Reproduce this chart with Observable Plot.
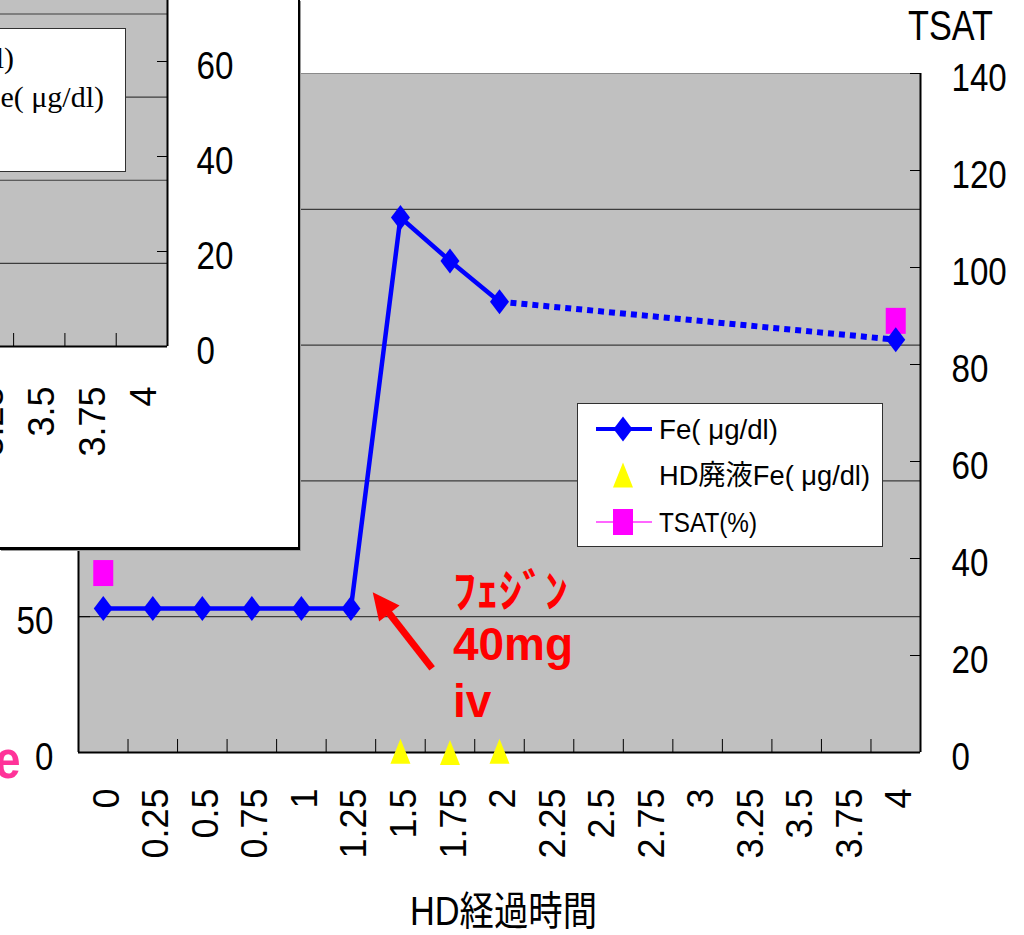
<!DOCTYPE html>
<html>
<head>
<meta charset="utf-8">
<script src="https://cdn.jsdelivr.net/npm/d3@7"></script>
<script src="https://cdn.jsdelivr.net/npm/@observablehq/plot@0.6"></script>
<style>
  body { margin: 0; background: #fff; }
  #wrap { position: relative; width: 1024px; height: 935px; overflow: hidden; }
  #main { position: absolute; left: 0; top: 0; width: 1024px; }
  #inset {
    position: absolute; left: 0; top: 0; width: 298px; height: 547px;
    overflow: hidden; background: #fff;
    border-right: 2px solid #000; border-bottom: 3px solid #000;
    box-shadow: 1px 1px 0 #9a9a9a;
  }
  #wrap svg { max-width: none !important; }
  #inset svg { position: absolute; }
</style>
</head>
<body>
<div id="wrap"><div id="main"></div><div id="inset"></div></div>
<script>
// ---- data ----
const hours   = [0, 0.25, 0.5, 0.75, 1, 1.25, 1.5, 1.75, 2, 2.25, 2.5, 2.75, 3, 3.25, 3.5, 3.75, 4];
const fe      = [53, 53, 53, 53, 53, 53, 197, 181, 166, null, null, null, null, null, null, null, 152];
const drainFe = [null, null, null, null, null, null, 0.5, 0, 0.5, null, null, null, null, null, null, null, null];
const tsat    = [37, null, null, null, null, null, null, null, null, null, null, null, null, null, null, null, 89];

const feTicks      = [0, 50, 100, 150, 200, 250];
const tsatTicks    = [0, 20, 40, 60, 80, 100, 120, 140];
const insetFeTicks = [0, 50, 100, 150, 200, 250, 300, 350, 400];

const legendLabels = ["Fe( μg/dl)", "HD廃液Fe( μg/dl)", "TSAT(%)"];
const xTitle = "HD経過時間";
const leftTitle = "Fe";
const rightTitle = "TSAT";
const noteLines = ["ﾌｪｼﾞﾝ", "40mg", "iv"];

// ---- layout ----
const SANS  = "'Liberation Sans', Arial, 'Noto Sans CJK JP', sans-serif";
const SERIF = "'Liberation Serif', 'Times New Roman', 'Noto Sans CJK JP', serif";
const W = 1024, H = 935;
const M = {top: 73, right: 104, bottom: 183, left: 78};
const innerW = W - M.left - M.right, innerH = H - M.top - M.bottom;
const FE_MAX = feTicks[feTicks.length - 1];
const TSAT_MAX = tsatTicks[tsatTicks.length - 1];
const toFe = v => v * FE_MAX / TSAT_MAX;

const step = hours[1] - hours[0];
const xDomain = [hours[0] - step / 2, hours[hours.length - 1] + step / 2];
const boundaries = hours.slice(1).map((h, i) => (hours[i] + h) / 2);

const rows = hours.map((h, i) => ({h, fe: fe[i], drain: drainFe[i], tsat: tsat[i]}));

// contiguous runs of Fe readings, and the dotted bridges across the gaps
const runs = [];
let cur = [];
rows.forEach(d => { if (d.fe == null) { if (cur.length) runs.push(cur); cur = []; } else cur.push(d); });
if (cur.length) runs.push(cur);
const bridges = runs.slice(1).map((r, i) => [runs[i][runs[i].length - 1], r[0]]);

// marker shapes
const tallDiamond = {draw(c) { c.moveTo(0, -12.5); c.lineTo(9.5, 0); c.lineTo(0, 12.5); c.lineTo(-9.5, 0); c.closePath(); }};
const triangleUp  = {draw(c) { c.moveTo(0, -12.5); c.lineTo(10, 12.5); c.lineTo(-10, 12.5); c.closePath(); }};
const tallSquare  = {draw(c) { c.rect(-10, -13, 20, 26); }};

// arrow annotation (data units)
const arrowFrom = {h: 1.66, v: 31};
const arrowTo   = {h: 1.36, v: 59};
const notePos   = [{h: 1.765, v: 59}, {h: 1.765, v: 39.4}, {h: 1.765, v: 18.4}];
const note = noteLines.map((t, i) => ({text: t, ...notePos[i]}));

const kx = innerW / (xDomain[1] - xDomain[0]);
const ky = innerH / FE_MAX;
const dxp = (arrowTo.h - arrowFrom.h) * kx;
const dyp = -(arrowTo.v - arrowFrom.v) * ky;
const alen = Math.hypot(dxp, dyp);
const ang = Math.atan2(dxp, -dyp);
const rot = (x, y) => [x * Math.cos(ang) - y * Math.sin(ang), x * Math.sin(ang) + y * Math.cos(ang)];
const arrowHead = {draw(c) {
  const a = rot(0, 0), b = rot(13, 27), d = rot(-13, 27);
  c.moveTo(a[0], a[1]); c.lineTo(b[0], b[1]); c.lineTo(d[0], d[1]); c.closePath();
}};
const shaftEnd = {
  h: arrowTo.h - (dxp / alen) * 18 / kx,
  v: arrowTo.v + (dyp / alen) * 18 / ky
};

// ---- main chart ----
const chart = Plot.plot({
  width: W, height: H,
  marginTop: M.top, marginRight: M.right, marginBottom: M.bottom, marginLeft: M.left,
  style: {fontFamily: SANS, background: "#fff", overflow: "visible"},
  x: {domain: xDomain},
  y: {domain: [0, FE_MAX]},
  marks: [
    Plot.frame({fill: "#c0c0c0", stroke: "none"}),
    Plot.ruleY(feTicks.filter(v => v > 0 && v < FE_MAX), {stroke: "#3c3c3c", strokeWidth: 1.2}),
    Plot.ruleY([FE_MAX], {stroke: "#8a8a8a"}),
    Plot.tickY(feTicks, {y: d => d, insetRight: innerW - 12, stroke: "#000"}),
    Plot.tickY(tsatTicks.map(toFe), {y: d => d, insetLeft: innerW - 10, stroke: "#000"}),
    Plot.tickX(boundaries, {x: d => d, insetTop: innerH - 13, stroke: "#000"}),
    Plot.ruleX([xDomain[0]], {stroke: "#000", strokeWidth: 2}),
    Plot.ruleX([xDomain[1]], {stroke: "#000", strokeWidth: 2}),
    Plot.ruleY([0], {stroke: "#000", strokeWidth: 2}),

    Plot.dot(rows, {x: "h", y: d => d.tsat == null ? NaN : toFe(d.tsat), symbol: tallSquare, fill: "#ff00ff"}),
    ...bridges.map(b => Plot.line(b, {x: "h", y: "fe", stroke: "#0000ff", strokeWidth: 6,
      strokeDasharray: "6,5", strokeLinecap: "butt"})),
    ...runs.map(r => Plot.line(r, {x: "h", y: "fe", stroke: "#0000ff", strokeWidth: 4.5})),
    Plot.dot(rows, {x: "h", y: "fe", symbol: tallDiamond, fill: "#0000ff"}),
    Plot.dot(rows, {x: "h", y: "drain", symbol: triangleUp, fill: "#ffff00"}),

    Plot.link([0], {x1: arrowFrom.h, y1: arrowFrom.v, x2: shaftEnd.h, y2: shaftEnd.v, stroke: "#ff0000", strokeWidth: 7}),
    Plot.dot([arrowTo], {x: "h", y: "v", symbol: arrowHead, fill: "#ff0000"}),
    Plot.text(note, {x: "h", y: "v", text: "text", textAnchor: "start", fill: "#ff0000",
      fontSize: 46, fontWeight: "bold"}),

    Plot.axisY({anchor: "left", ticks: feTicks, tickSize: 0, tickPadding: 25, dy: 5, fontSize: 39, label: null}),
    Plot.axisY({anchor: "right", ticks: tsatTicks.map(toFe), tickFormat: v => Math.round(v * TSAT_MAX / FE_MAX),
      tickSize: 0, tickPadding: 31, dy: 5, fontSize: 39, label: null}),
    Plot.axisX({ticks: hours, tickFormat: d => String(d), tickRotate: -90, tickSize: 0, tickPadding: 36,
      dx: 4, fontSize: 36, label: null}),

    Plot.text([xTitle], {text: d => d, frameAnchor: "bottom", textAnchor: "middle", lineAnchor: "middle",
      dx: 4, dy: 160, fontSize: 40}),
    Plot.text([rightTitle], {text: d => d, frameAnchor: "top-right", textAnchor: "middle", lineAnchor: "middle",
      dx: 30, dy: -47, fontSize: 42}),
    Plot.text([leftTitle], {text: d => d, frameAnchor: "bottom-left", textAnchor: "end", lineAnchor: "middle",
      dx: -58, dy: 8, fontSize: 54, fontWeight: "bold", fill: "#ff3399"})
  ]
});
document.getElementById("main").append(chart);

// legend
const svg = d3.select(chart);
const lg = svg.append("g").attr("font-family", SANS).attr("font-size", 28).attr("text-anchor", "start");
lg.append("rect").attr("x", 577.5).attr("y", 403.5).attr("width", 305).attr("height", 143)
  .attr("fill", "#fff").attr("stroke", "#303030");
const legendRows = [
  {y: 429, line: "#0000ff", lw: 4, shape: tallDiamond, fill: "#0000ff", len: 119},
  {y: 475, line: null, shape: triangleUp, fill: "#ffff00", len: 211},
  {y: 522, line: "#ff66ff", lw: 2, shape: tallSquare, fill: "#ff00ff", len: 98}
];
legendRows.forEach((r, i) => {
  if (r.line) lg.append("line").attr("x1", 596).attr("x2", 652).attr("y1", r.y).attr("y2", r.y)
    .attr("stroke", r.line).attr("stroke-width", r.lw);
  lg.append("path").attr("d", d3.symbol().type(r.shape)()).attr("transform", `translate(623,${r.y})`).attr("fill", r.fill);
  lg.append("text").attr("x", 659).attr("y", r.y).attr("dy", "0.36em").attr("text-anchor", "start")
    .text(legendLabels[i])
    .attr("textLength", r.len).attr("lengthAdjust", "spacingAndGlyphs");
});

// ---- inset chart (its right end shows in the top-left panel) ----
const IW = 1084, IH = 907;
const IM = {top: 40, right: 132, bottom: 202, left: 80};
const iInnerW = IW - IM.left - IM.right, iInnerH = IH - IM.top - IM.bottom;
const INSET_FE_MAX = insetFeTicks[insetFeTicks.length - 1];
const toInset = v => v * INSET_FE_MAX / TSAT_MAX;
const insetRight = 167, insetBottom = 346;
const offX = IW - IM.right - insetRight, offY = IH - IM.bottom - insetBottom;

const inset = Plot.plot({
  width: IW, height: IH,
  marginTop: IM.top, marginRight: IM.right, marginBottom: IM.bottom, marginLeft: IM.left,
  style: {fontFamily: SANS, background: "#fff", overflow: "visible"},
  x: {domain: xDomain},
  y: {domain: [0, INSET_FE_MAX]},
  marks: [
    Plot.frame({fill: "#c0c0c0", stroke: "none"}),
    Plot.ruleY(insetFeTicks.filter(v => v > 0 && v < INSET_FE_MAX), {stroke: "#3c3c3c", strokeWidth: 1.2}),
    Plot.tickY(tsatTicks.map(toInset), {y: d => d, insetLeft: iInnerW - 10, stroke: "#000"}),
    Plot.tickX(boundaries, {x: d => d, insetTop: iInnerH - 13, stroke: "#000"}),
    Plot.ruleX([xDomain[1]], {stroke: "#000", strokeWidth: 2}),
    Plot.ruleY([0], {stroke: "#000", strokeWidth: 2}),
    Plot.axisY({anchor: "right", ticks: tsatTicks.map(toInset), tickFormat: v => Math.round(v * TSAT_MAX / INSET_FE_MAX),
      tickSize: 0, tickPadding: 29, dy: 5, fontSize: 39, label: null}),
    Plot.axisX({ticks: hours, tickFormat: d => String(d), tickRotate: -90, tickSize: 0, tickPadding: 40,
      dx: 3, fontSize: 36, label: null})
  ]
});
inset.style.left = (-offX) + "px";
inset.style.top = (-offY) + "px";
inset.style.width = IW + "px";
inset.style.height = IH + "px";
inset.style.maxWidth = "none";
document.getElementById("inset").append(inset);

const ig = d3.select(inset).append("g").attr("font-family", SERIF).attr("font-size", 30).attr("text-anchor", "end");
ig.append("rect").attr("x", offX - 180 + 0.5).attr("y", offY + 28 + 0.5).attr("width", 305).attr("height", 143)
  .attr("fill", "#fff").attr("stroke", "#303030");
[{end: 14, y: 57}, {end: 104, y: 96}, {end: -14, y: 135}].forEach((p, i) => {
  ig.append("text").attr("x", offX + p.end).attr("y", offY + p.y).attr("dy", "0.35em")
    .attr("text-anchor", "end").text(legendLabels[i]);
});

// narrow the horizontal axis numerals and the titles
function condenseText(t, factor, fixed) {
  const w = t.getComputedTextLength();
  if (w > 0) {
    t.setAttribute("textLength", (fixed || w * factor).toFixed(1));
    t.setAttribute("lengthAdjust", "spacingAndGlyphs");
  }
}
[chart, inset].forEach(root =>
  root.querySelectorAll('g[aria-label="y-axis tick label"] text').forEach(t => condenseText(t, 0.85)));
chart.querySelectorAll("text").forEach(t => {
  const s = t.textContent;
  if (s === xTitle) condenseText(t, 1, 187);
  else if (s === rightTitle) condenseText(t, 1, 85);
  else if (s === leftTitle) condenseText(t, 0.85);
});
</script>
</body>
</html>
